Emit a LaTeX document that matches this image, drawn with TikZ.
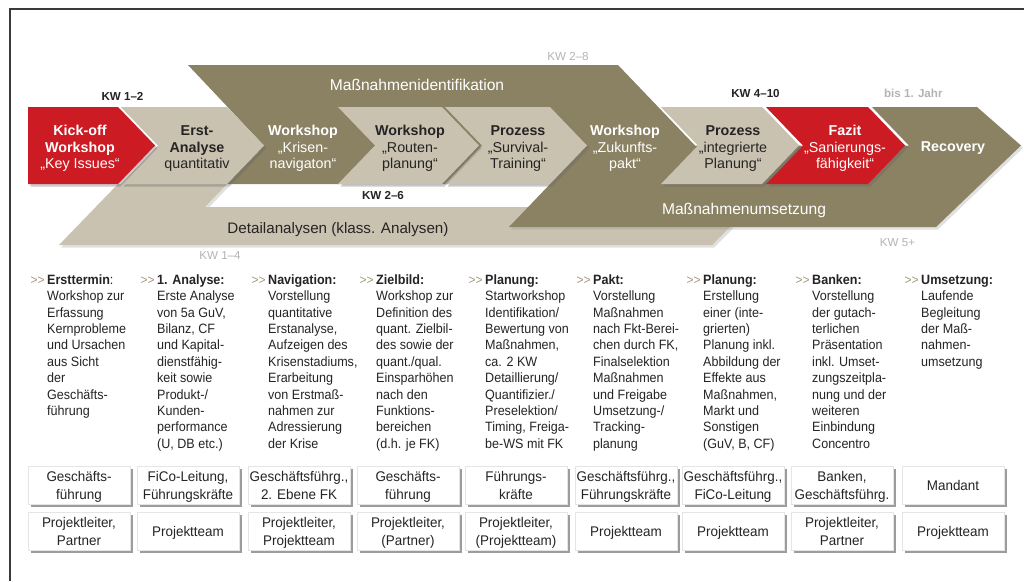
\documentclass[tikz,border=0pt]{standalone}
\usepackage{fontspec}
\setmainfont{Liberation Sans}
\newfontfamily\condf[FakeStretch=0.93]{Liberation Sans}
\newfontfamily\boxf[FakeStretch=0.96]{Liberation Sans}
\usetikzlibrary{shadows}

\definecolor{kred}{HTML}{CC1B22}
\definecolor{beige}{HTML}{C9C2B0}
\definecolor{olive}{HTML}{8B8163}
\definecolor{txtc}{HTML}{262324}
\definecolor{lightc}{HTML}{B4B4B4}
\definecolor{arrowc}{HTML}{A39A7E}
\definecolor{framec}{HTML}{3A3A3A}

% chevron of the process row: #1 = left (notch) x, #2 = right shoulder x
\newcommand\chev[2]{(#1,107) -- (#2,107) -- (#2+37,145.5) -- (#2,184) -- (#1,184) -- (#1+37,145.5) -- cycle}
\newcommand\arrowmark{{\color{arrowc}\fontsize{13}{13}\selectfont >>}\hspace{2.5pt}}
% column of descriptive text: name, x, title, body
\newcommand\colnode[4]{\node[coltxt] (#1) at (#2,284.3)
  {\begin{tabular}[t]{@{}l@{}}\llap{\arrowmark}\textbf{#3}\\#4\end{tabular}};}
\newcommand\ctab[1]{\begin{tabular}[t]{@{}c@{}}#1\end{tabular}}
\newcommand\btab[1]{\raisebox{-2.2pt}[\height][\depth]{\begin{tabular}{@{}c@{}}#1\end{tabular}}}

\tikzset{
  chevsh/.style={drop shadow={shadow xshift=2.5pt,shadow yshift=-2.5pt,fill=black!60,opacity=.35}},
  bandsh/.style={drop shadow={shadow xshift=2pt,shadow yshift=-2.5pt,fill=black!40,opacity=.3}},
  chevtxt/.style={anchor=base,inner sep=0pt,font=\fontsize{14.3}{16.3}\selectfont},
  bandtxt/.style={anchor=base,inner sep=0pt,font=\fontsize{15.6}{18}\selectfont},
  kwdark/.style={anchor=base,inner sep=0pt,text=txtc,font=\bfseries\fontsize{11.6}{13}\selectfont},
  kwlight/.style={anchor=base,inner sep=0pt,text=lightc,font=\fontsize{11.6}{13}\selectfont},
  coltxt/.style={anchor=base west,inner sep=0pt,text=txtc,font=\condf\fontsize{13.5}{16.4}\selectfont},
  boxn/.style={draw=black!10,line width=0.4pt,fill=white,minimum width=102pt,minimum height=38pt,
    inner sep=0pt,text=txtc,font=\boxf\fontsize{14}{18}\selectfont,
    drop shadow={shadow xshift=2.5pt,shadow yshift=-3pt,fill=black!70,opacity=.55}},
}

\begin{document}
\begin{tikzpicture}[x=1pt,y=-1pt]
\useasboundingbox (0,0) rectangle (1024,581);
\fill[white] (0,0) rectangle (1024,581);
\draw[framec,line width=2pt] (9.5,581) -- (9.5,9) -- (1024,9);

% ---- long bands ----
% Detailanalysen
\fill[beige,bandsh] (59,245) -- (118,184) -- (227,184) -- (205,207) -- (712,207)
  -- (731,226) -- (712,245) -- cycle;
% Maßnahmenumsetzung with Recovery
\fill[olive,bandsh] (509,227) -- (587,145.5) -- (909,145.5) -- (872,107) -- (977,107)
  -- (1021,145.5) -- (936,227) -- cycle;
% Maßnahmenidentifikation
\fill[olive] (188,65) -- (618,65) -- (695,145.5) -- (658,184) -- (227,184) -- (264,145.5) -- cycle;

% ---- process chevrons, right to left ----
\fill[kred,chevsh] \chev{766}{868};
\fill[beige,chevsh] \chev{661}{762};
\fill[beige,chevsh] \chev{445}{550};
\fill[beige,chevsh] \chev{338}{442};
\fill[beige,chevsh] \chev{121}{227};
\fill[kred,chevsh] (28,107) -- (118,107) -- (155,145.5) -- (118,184) -- (28,184) -- cycle;

% ---- chevron texts ----
\node[chevtxt,text=white] (kickoff) at (80,135.7) {\ctab{\textbf{Kick-off}\\\textbf{Workshop}\\„Key Issues“}};
\node[chevtxt,text=txtc] (erst) at (197,135.7) {\ctab{\textbf{Erst-}\\\textbf{Analyse}\\quantitativ}};
\node[chevtxt,text=white] (krisen) at (303,135.7) {\ctab{\textbf{Workshop}\\„Krisen-\\navigaton“}};
\node[chevtxt,text=txtc] (routen) at (410,135.7) {\ctab{\textbf{Workshop}\\„Routen-\\planung“}};
\node[chevtxt,text=txtc] (survival) at (518,135.7) {\ctab{\textbf{Prozess}\\„Survival-\\Training“}};
\node[chevtxt,text=white] (zukunft) at (625,135.7) {\ctab{\textbf{Workshop}\\„Zukunfts-\\pakt“}};
\node[chevtxt,text=txtc] (integr) at (733,135.7) {\ctab{\textbf{Prozess}\\„integrierte\\Planung“}};
\node[chevtxt,text=white] (fazit) at (845,135.7) {\ctab{\textbf{Fazit}\\„Sanierungs-\\fähigkeit“}};
\node[chevtxt,text=white] (recovery) at (953,151.7) {\textbf{Recovery}};

% ---- band texts ----
\node[bandtxt,text=white] (identif) at (417,90.7) {Maßnahmenidentifikation};
\node[bandtxt,text=txtc,font=\fontsize{15.2}{18}\selectfont] (detail) at (338,233) {Detailanalysen (klass. Analysen)};
\node[bandtxt,text=white] (umsetz) at (744,214.5) {Maßnahmenumsetzung};

% ---- time labels ----
\node[kwdark] (kw12) at (122.5,100.7) {KW 1–2};
\node[kwdark] (kw410) at (755.5,97.5) {KW 4–10};
\node[kwlight,font=\bfseries\fontsize{11.6}{13}\selectfont] (bisjahr) at (913.3,97.7) {bis 1. Jahr};
\node[kwlight] (kw28) at (568,60) {KW 2–8};
\node[kwdark] (kw26) at (383,199.3) {KW 2–6};
\node[kwlight] (kw14) at (220,259) {KW 1–4};
\node[kwlight] (kw5) at (897.5,246.7) {KW 5+};

% ---- descriptive columns ----
\colnode{c1}{47}{Ersttermin\mdseries:}{Workshop zur\\Erfassung\\Kernprobleme\\und Ursachen\\aus Sicht\\der\\Geschäfts-\\führung}
\colnode{c2}{157}{1. Analyse:}{Erste Analyse\\von 5a GuV,\\Bilanz, CF\\und Kapital-\\dienstfähig-\\keit sowie\\Produkt-/\\Kunden-\\performance\\(U, DB etc.)}
\colnode{c3}{268}{Navigation:}{Vorstellung\\quantitative\\Erstanalyse,\\Aufzeigen des\\Krisenstadiums,\\Erarbeitung\\von Erstmaß-\\nahmen zur\\Adressierung\\der Krise}
\colnode{c4}{376}{Zielbild:}{Workshop zur\\Definition des\\quant. Zielbil-\\des sowie der\\quant./qual.\\Einsparhöhen\\nach den\\Funktions-\\bereichen\\(d.h. je FK)}
\colnode{c5}{485}{Planung:}{Startworkshop\\Identifikation/\\Bewertung von\\Maßnahmen,\\ca. 2 KW\\Detaillierung/\\Quantifizier./\\Preselektion/\\Timing, Freiga-\\be-WS mit FK}
\colnode{c6}{593}{Pakt:}{Vorstellung\\Maßnahmen\\nach Fkt-Berei-\\chen durch FK,\\Finalselektion\\Maßnahmen\\und Freigabe\\Umsetzung-/\\Tracking-\\planung}
\colnode{c7}{703}{Planung:}{Erstellung\\einer (inte-\\grierten)\\Planung inkl.\\Abbildung der\\Effekte aus\\Maßnahmen,\\Markt und\\Sonstigen\\(GuV, B, CF)}
\colnode{c8}{812}{Banken:}{Vorstellung\\der gutach-\\terlichen\\Präsentation\\inkl. Umset-\\zungszeitpla-\\nung und der\\weiteren\\Einbindung\\Concentro}
\colnode{c9}{921}{Umsetzung:}{Laufende\\Begleitung\\der Maß-\\nahmen-\\umsetzung}

% ---- participant boxes ----
\node[boxn] (a1) at (79,485) {\btab{Geschäfts-\\führung}};
\node[boxn] (a2) at (188,485) {\btab{FiCo-Leitung,\\Führungskräfte}};
\node[boxn] (a3) at (299,485) {\btab{Geschäftsführg.,\\2. Ebene FK}};
\node[boxn] (a4) at (408,485) {\btab{Geschäfts-\\führung}};
\node[boxn] (a5) at (516,485) {\btab{Führungs-\\kräfte}};
\node[boxn] (a6) at (626,485) {\btab{Geschäftsführg.,\\Führungskräfte}};
\node[boxn] (a7) at (733,485) {\btab{Geschäftsführg.,\\FiCo-Leitung}};
\node[boxn] (a8) at (842,485) {\btab{Banken,\\Geschäftsführg.}};
\node[boxn] (a9) at (953,485) {\btab{Mandant}};

\node[boxn] (p1) at (79,531) {\btab{Projektleiter,\\Partner}};
\node[boxn] (p2) at (188,531) {\btab{Projektteam}};
\node[boxn] (p3) at (299,531) {\btab{Projektleiter,\\Projektteam}};
\node[boxn] (p4) at (408,531) {\btab{Projektleiter,\\(Partner)}};
\node[boxn] (p5) at (516,531) {\btab{Projektleiter,\\(Projektteam)}};
\node[boxn] (p6) at (626,531) {\btab{Projektteam}};
\node[boxn] (p7) at (733,531) {\btab{Projektteam}};
\node[boxn] (p8) at (842,531) {\btab{Projektleiter,\\Partner}};
\node[boxn] (p9) at (953,531) {\btab{Projektteam}};
\end{tikzpicture}
\end{document}
